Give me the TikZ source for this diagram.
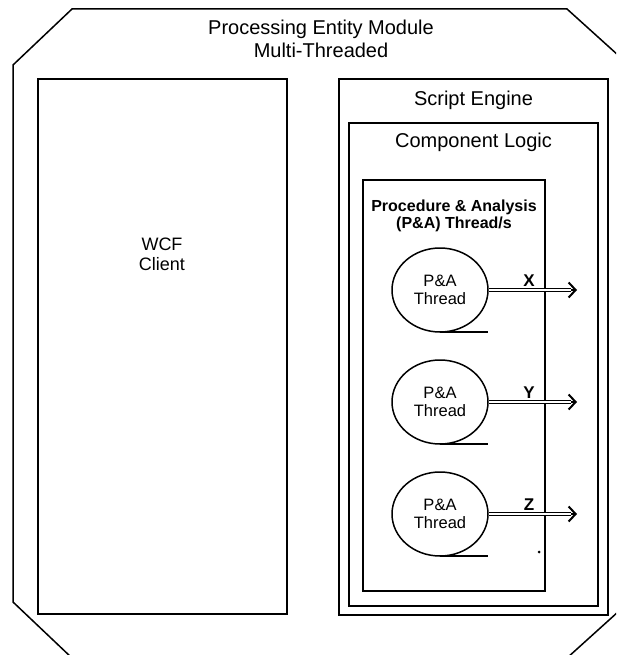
\documentclass[tikz,border=0pt]{standalone}
\usepackage{fontspec}
\setmainfont{Liberation Sans}
\usetikzlibrary{arrows.meta,shapes.geometric}
\begin{document}
\begin{tikzpicture}[x=1pt,y=-1pt,
  frame/.style={line width=1.5pt},
  box/.style={draw, line width=1.5pt, inner sep=0pt, rectangle},
  pabox/.style={draw, line width=2.2pt, inner sep=0pt, rectangle},
  lbl/.style={inner sep=0pt, font=\fontsize{20}{23}\selectfont, align=center},
  thr/.style={draw, ellipse, line width=1.5pt, minimum width=96pt, minimum height=84pt, inner sep=0pt, align=center, font=\fontsize{16.5}{18}\selectfont},
  tail/.style={line width=1.8pt},
  dbl/.style={double, double distance=2pt, line width=1.4pt},
  barb/.style={line width=2pt, line join=miter, -{Straight Barb[length=7pt,width=15pt,line width=2pt]}},
  xyz/.style={inner sep=0pt, font=\bfseries\fontsize{17}{17}\selectfont}
]
\useasboundingbox (0,0) rectangle (616,655);
\clip (0,0) rectangle (616,655);
% outer octagon
\draw[frame] (72,9) -- (567,9) -- (629,65) -- (629,602) -- (567,658) -- (72,658) -- (13,602) -- (13,65) -- cycle;
\node[lbl] (title) at (321,39) {Processing Entity Module\\Multi-Threaded};

% WCF client
\node[box, minimum width=249pt, minimum height=535pt] (wcf) at (162.5,346.5) {};
\node[lbl, font=\fontsize{18}{20}\selectfont] (wcft) at (162,254) {WCF\\Client};

% Script engine
\node[box, minimum width=269pt, minimum height=536pt] (se) at (473.5,347) {};
\node[lbl] (set) at (473.5,100) {Script Engine};

% Component logic
\node[box, minimum width=249pt, minimum height=483pt] (cl) at (473.5,364.5) {};
\node[lbl] (clt) at (473.5,142) {Component Logic};

% P&A box
\node[pabox, minimum width=182pt, minimum height=411pt] (pa) at (454,385.5) {};
\node[lbl, font=\bfseries\fontsize{16}{17}\selectfont] (pat) at (454,216) {Procedure \& Analysis\\(P\&A) Thread/s};

% threads
\foreach \n/\cy/\l in {x/290/X, y/402/Y, z/514/Z}{
  \node[thr] (t\n) at (440,\cy) {P\&A\\Thread};
  \coordinate (tb\n) at (440,\cy+42);
  \coordinate (te\n) at (488,\cy+42);
  \draw[tail] (tb\n) -- (te\n);
  \coordinate (m\n) at (571,\cy);
  \coordinate (o\n) at (577,\cy);
  \draw[dbl] (t\n.east) -- (m\n);
  \draw[barb] (m\n) -- (o\n);
  \node[xyz] (l\n) at (529,\cy-9) {\l};
}
\fill (539,552) circle (1.5pt);
\end{tikzpicture}
\end{document}
